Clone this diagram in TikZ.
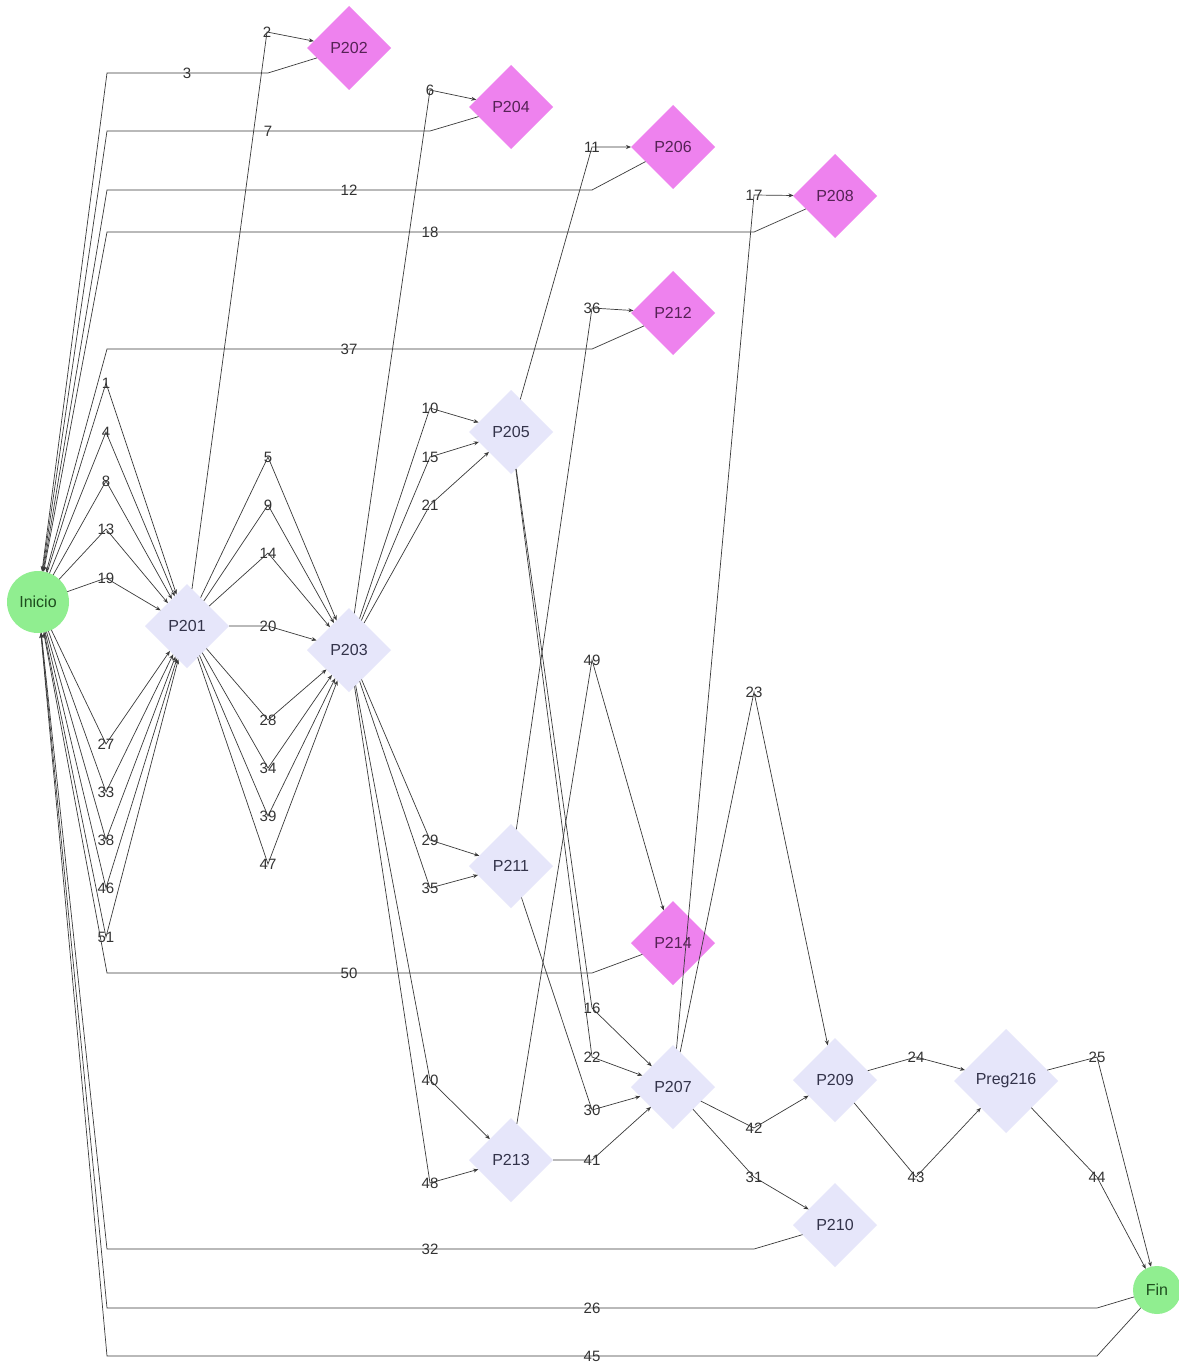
\documentclass[tikz,border=0pt]{standalone}
\usepackage{fontspec}
\setmainfont{Liberation Sans}
\usetikzlibrary{shapes.geometric,arrows.meta}
\definecolor{lav}{HTML}{E6E6FA}
\definecolor{pinkv}{HTML}{EE82EE}
\definecolor{lgreen}{HTML}{90EE90}
\definecolor{edgec}{HTML}{3A3A3A}
\definecolor{lavtext}{HTML}{33334A}
\definecolor{pinktext}{HTML}{552255}
\definecolor{greentext}{HTML}{1E4D1E}
\begin{document}
\begin{tikzpicture}[x=1pt,y=-1pt,
  qn/.style={diamond,aspect=1,minimum size=84pt,inner sep=0pt,outer sep=0pt,fill=lav,text=lavtext,font=\fontsize{16}{18}\selectfont},
  pq/.style={qn,fill=pinkv,text=pinktext},
  term/.style={circle,inner sep=0pt,outer sep=0pt,fill=lgreen,text=greentext,font=\fontsize{16}{18}\selectfont},
  edge/.style={draw=edgec,line width=0.7pt,-{Stealth[length=5pt,width=4pt]}},
  lbl/.style={font=\fontsize{15}{17}\selectfont,text=black!80,inner sep=0pt}]
\useasboundingbox (0,0) rectangle (1178,1362);
\fill[white] (0,0) rectangle (1178,1362);

% nodes
\node[term,minimum size=62pt] (Inicio) at (38,602) {Inicio};
\node[term,minimum size=48pt] (Fin) at (1157,1290) {Fin};
\node[qn] (P201) at (187,626) {P201};
\node[pq] (P202) at (349,48) {P202};
\node[qn] (P203) at (349,650) {P203};
\node[pq] (P204) at (511,107) {P204};
\node[qn] (P205) at (511,432) {P205};
\node[pq] (P206) at (673,147) {P206};
\node[qn] (P207) at (673,1087) {P207};
\node[pq] (P208) at (835,196) {P208};
\node[qn] (P209) at (835,1080) {P209};
\node[qn] (P210) at (835,1225) {P210};
\node[qn] (P211) at (511,866) {P211};
\node[pq] (P212) at (673,313) {P212};
\node[qn] (P213) at (511,1160) {P213};
\node[pq] (P214) at (673,943) {P214};
\node[qn,minimum size=104pt] (P216) at (1006,1081) {Preg216};

% Inicio -> P201
\foreach \n/\y in {1/383,4/432,8/481,13/529,19/578,27/744,33/792,38/840,46/888,51/937}
  \draw[edge] (Inicio) -- (106,\y) node[lbl] (l\n) {\n} -- (P201);
% P201 -> P203
\foreach \n/\y in {5/457,9/505,14/553,20/626,28/720,34/768,39/816,47/864}
  \draw[edge] (P201) -- (268,\y) node[lbl] (l\n) {\n} -- (P203);
% P203 -> P205
\foreach \n/\y in {10/408,15/457,21/505}
  \draw[edge] (P203) -- (430,\y) node[lbl] (l\n) {\n} -- (P205);
% P203 -> P211
\foreach \n/\y in {29/840,35/888}
  \draw[edge] (P203) -- (430,\y) node[lbl] (l\n) {\n} -- (P211);
% P203 -> P213
\foreach \n/\y in {40/1080,48/1183}
  \draw[edge] (P203) -- (430,\y) node[lbl] (l\n) {\n} -- (P213);
% P205 -> P207
\foreach \n/\y in {16/1008,22/1057}
  \draw[edge] (P205) -- (592,\y) node[lbl] (l\n) {\n} -- (P207);

\draw[edge] (P201) -- (267,32) node[lbl] (l2) {2} -- (P202);
\draw[edge] (P203) -- (430,90) node[lbl] (l6) {6} -- (P204);
\draw[edge] (P205) -- (592,147) node[lbl] (l11) {11} -- (P206);
\draw[edge] (P207) -- (754,195) node[lbl] (l17) {17} -- (P208);
\draw[edge] (P211) -- (592,308) node[lbl] (l36) {36} -- (P212);
\draw[edge] (P213) -- (592,660) node[lbl] (l49) {49} -- (P214);
\draw[edge] (P207) -- (754,692) node[lbl] (l23) {23} -- (P209);
\draw[edge] (P207) -- (754,1128) node[lbl] (l42) {42} -- (P209);
\draw[edge] (P207) -- (754,1177) node[lbl] (l31) {31} -- (P210);
\draw[edge] (P211) -- (592,1110) node[lbl] (l30) {30} -- (P207);
\draw[edge] (P213) -- (592,1160) node[lbl] (l41) {41} -- (P207);
\draw[edge] (P209) -- (916,1057) node[lbl] (l24) {24} -- (P216);
\draw[edge] (P209) -- (916,1177) node[lbl] (l43) {43} -- (P216);
\draw[edge] (P216) -- (1097,1057) node[lbl] (l25) {25} -- (Fin);
\draw[edge] (P216) -- (1097,1177) node[lbl] (l44) {44} -- (Fin);

% back edges to Inicio
\draw[edge] (P202) -- (268,73) -- (187,73) node[lbl] (l3) {3} -- (107,73) -- (Inicio);
\draw[edge] (P204) -- (430,131) -- (268,131) node[lbl] (l7) {7} -- (107,131) -- (Inicio);
\draw[edge] (P206) -- (592,190) -- (349,190) node[lbl] (l12) {12} -- (107,190) -- (Inicio);
\draw[edge] (P208) -- (754,232) -- (430,232) node[lbl] (l18) {18} -- (107,232) -- (Inicio);
\draw[edge] (P212) -- (592,349) -- (349,349) node[lbl] (l37) {37} -- (107,349) -- (Inicio);
\draw[edge] (P214) -- (592,973) -- (349,973) node[lbl] (l50) {50} -- (107,973) -- (Inicio);
\draw[edge] (P210) -- (754,1249) -- (430,1249) node[lbl] (l32) {32} -- (107,1249) -- (Inicio);
\draw[edge] (Fin) -- (1097,1308) -- (592,1308) node[lbl] (l26) {26} -- (107,1308) -- (Inicio);
\draw[edge] (Fin) -- (1097,1356) -- (592,1356) node[lbl] (l45) {45} -- (107,1356) -- (Inicio);
\end{tikzpicture}
\end{document}
